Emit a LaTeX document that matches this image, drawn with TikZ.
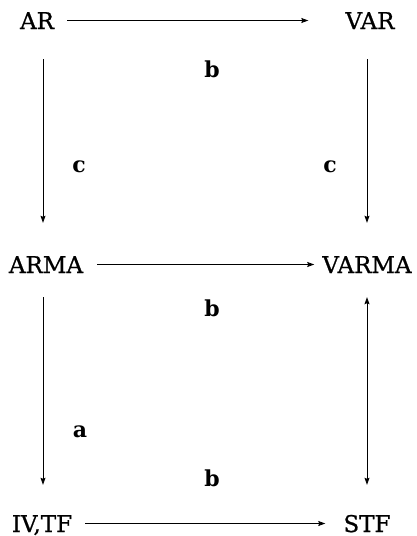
\documentclass[tikz,border=0pt]{standalone}
\usepackage{fontspec}
\setmainfont{DejaVu Serif}
\newfontfamily\modelfont[FakeBold=0.8]{DejaVu Serif}
\newfontfamily\lblfont{DejaVu Serif}
\usetikzlibrary{arrows.meta}
\begin{document}
\begin{tikzpicture}[x=1pt,y=-1pt,
  model/.style={inner sep=0pt,text height=17pt,text depth=0pt,anchor=base,font=\modelfont\fontsize{23}{26}\selectfont},
  lbl/.style={inner sep=0pt,anchor=base,font=\lblfont\bfseries\fontsize{22}{26}\selectfont},
  arr/.style={line width=0.8pt,-{Stealth[length=7pt,width=5pt,inset=1pt]}},
  darr/.style={line width=0.8pt,{Stealth[length=7pt,width=5pt,inset=1pt]}-{Stealth[length=7pt,width=5pt,inset=1pt]}}]
\useasboundingbox (0,0) rectangle (417,536);
\coordinate (colL) at (43,0);
\coordinate (colR) at (367,0);
\node[model] (AR) at (37,29) {AR};
\node[model] (VAR) at (370,29) {VAR};
\node[model] (ARMA) at (46,273) {ARMA};
\node[model] (VARMA) at (367,273) {VARMA};
\node[model] (IVTF) at (42,532) {IV,TF};
\node[model] (STF) at (367,532) {STF};
\node[lbl] (b1) at (212,77) {b};
\node[lbl] (cL) at (79,172) {c};
\node[lbl] (cR) at (330,172) {c};
\node[lbl] (b2) at (212,316) {b};
\node[lbl] (a) at (80,437) {a};
\node[lbl] (b3) at (212,486) {b};
\draw[arr,shorten <=13pt,shorten >=37pt] (AR.east) -- (VAR.west);
\draw[arr,shorten <=14pt,shorten >=8pt] (ARMA.east) -- (VARMA.west);
\draw[arr,shorten <=13pt,shorten >=18pt] (IVTF.east) -- (STF.west);
\draw[arr,shorten <=30pt,shorten >=33pt] (AR.south -| colL) -- (ARMA.north -| colL);
\draw[arr,shorten <=30pt,shorten >=33pt] (VAR.south -| colR) -- (VARMA.north -| colR);
\draw[arr,shorten <=24pt,shorten >=30pt] (ARMA.south -| colL) -- (IVTF.north -| colL);
\draw[darr,shorten <=24pt,shorten >=30pt] (VARMA.south -| colR) -- (STF.north -| colR);
\end{tikzpicture}
\end{document}
